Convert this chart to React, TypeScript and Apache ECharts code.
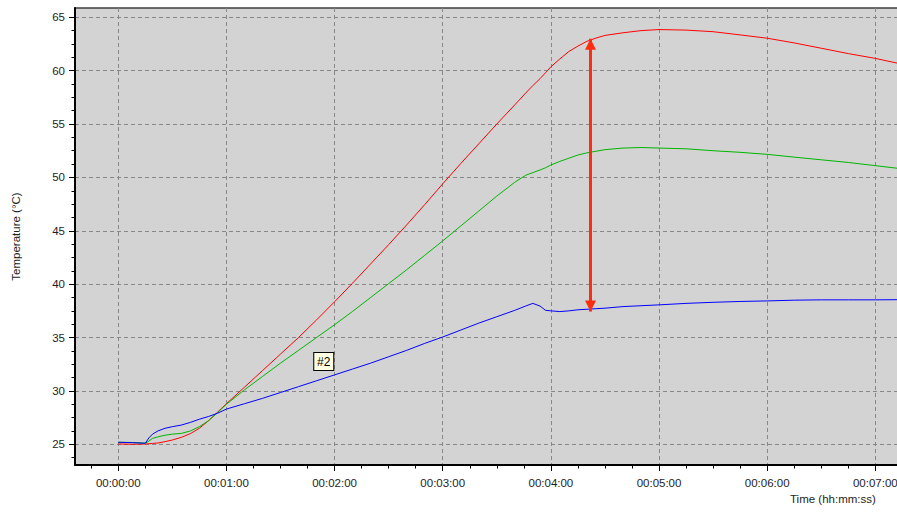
import React, { useEffect, useRef } from "react";
import * as echarts from "echarts";

// time in seconds
const times = [0, 8, 15, 17, 19, 22, 26, 30, 35, 40, 45, 50, 55, 60, 70, 80, 90, 100, 110, 120, 130, 140, 150, 160, 170, 180, 190, 200, 210, 220, 226, 230, 234, 237, 240, 245, 250, 255, 260, 265, 270, 280, 290, 300, 315, 330, 345, 360, 375, 390, 405, 420, 435, 445];

const redTemp = [25.03, 25.0, 25.03, 25.05, 25.08, 25.12, 25.25, 25.4, 25.65, 26.0, 26.5, 27.2, 28.0, 28.8, 30.35, 31.9, 33.45, 35.0, 36.65, 38.35, 40.1, 41.9, 43.7, 45.55, 47.45, 49.4, 51.3, 53.15, 55.0, 56.8, 57.9, 58.6, 59.25, 59.8, 60.36, 61.1, 61.8, 62.3, 62.75, 63.05, 63.3, 63.55, 63.75, 63.85, 63.8, 63.65, 63.35, 63.04, 62.6, 62.1, 61.6, 61.15, 60.6, 60.3];

const greenTemp = [25.19, 25.17, 25.1, 25.3, 25.55, 25.7, 25.85, 25.95, 26.02, 26.25, 26.65, 27.2, 27.95, 28.75, 30.1, 31.35, 32.6, 33.8, 35.0, 36.2, 37.45, 38.75, 40.05, 41.35, 42.7, 44.05, 45.45, 46.85, 48.25, 49.55, 50.2, 50.45, 50.7, 50.9, 51.16, 51.5, 51.8, 52.1, 52.3, 52.45, 52.6, 52.75, 52.8, 52.75, 52.68, 52.5, 52.35, 52.16, 51.9, 51.65, 51.4, 51.1, 50.8, 50.65];

const blueTemp = [25.19, 25.15, 25.1, 25.6, 25.95, 26.25, 26.5, 26.65, 26.8, 27.05, 27.35, 27.6, 27.9, 28.3, 28.8, 29.3, 29.85, 30.4, 30.95, 31.5, 32.05, 32.6, 33.2, 33.8, 34.45, 35.05, 35.7, 36.35, 36.95, 37.55, 37.95, 38.2, 37.95, 37.55, 37.5, 37.43, 37.5, 37.6, 37.65, 37.7, 37.75, 37.9, 37.98, 38.06, 38.2, 38.3, 38.38, 38.43, 38.5, 38.53, 38.53, 38.53, 38.55, 38.55];

const xMajorTicks = [0, 60, 120, 180, 240, 300, 360, 420];
const xMinorTicks = [-15, 15, 30, 45, 75, 90, 105, 135, 150, 165, 195, 210, 225, 255, 270, 285, 315, 330, 345, 375, 390, 405, 435];
const yMajorTicks = [25, 30, 35, 40, 45, 50, 55, 60, 65];
const yMinorTicks = [23.75, 26.25, 27.5, 28.75, 31.25, 32.5, 33.75, 36.25, 37.5, 38.75, 41.25, 42.5, 43.75, 46.25, 47.5, 48.75, 51.25, 52.5, 53.75, 56.25, 57.5, 58.75, 61.25, 62.5, 63.75];

// measurement arrow (time, top value, bottom value) and label marker
const arrowTime = 262;
const arrowTop = 63.0;
const arrowBottom = 37.45;
const labelMarker = { text: "#2", time: 114, value: 32.75 };

const X_MIN = -24;
const X_MAX = 450;
const Y_MIN = 23.06;
const Y_MAX = 65.87;

const FONT = "'Liberation Sans', Arial, sans-serif";
const TXT = "#1e1e1e";

function fmtTime(sec: number): string {
  const s = Math.round(sec);
  const h = Math.floor(s / 3600);
  const m = Math.floor((s % 3600) / 60);
  const ss = s % 60;
  const p = (n: number) => (n < 10 ? "0" + n : "" + n);
  return p(h) + ":" + p(m) + ":" + p(ss);
}

export default function App() {
  const ref = useRef<HTMLDivElement>(null);
  useEffect(() => {
    if (!ref.current) return;
    const chart = echarts.init(ref.current, null, { renderer: "svg" });
    const mk = (arr: number[]) => times.map((t, i) => [t, arr[i]]);
    const dashed = { show: true, lineStyle: { color: "#878787", width: 1, type: [4, 3] as any } };
    chart.setOption({
      animation: false,
      grid: {
        left: 75,
        top: 8,
        width: 854.4,
        height: 457,
        show: true,
        backgroundColor: "#d3d3d3",
        borderColor: "#404040",
        borderWidth: 1.5,
      },
      xAxis: [
        {
          type: "value",
          min: X_MIN,
          max: X_MAX,
          minInterval: 60,
          maxInterval: 60,
          position: "bottom",
          axisLine: { show: true, onZero: false, lineStyle: { color: "#000", width: 2 } },
          axisTick: { show: true, customValues: xMajorTicks, length: 6, lineStyle: { color: "#000", width: 1 } },
          axisLabel: {
            customValues: xMajorTicks,
            formatter: (v: number) => fmtTime(v),
            color: TXT,
            fontSize: 11.5,
            fontFamily: FONT,
            margin: 12,
          },
          splitLine: dashed,
        },
        {
          type: "value",
          min: X_MIN,
          max: X_MAX,
          position: "bottom",
          axisLine: { show: false, onZero: false },
          axisTick: { show: true, customValues: xMinorTicks, length: 3.5, lineStyle: { color: "#000", width: 1 } },
          axisLabel: { show: false },
          splitLine: { show: false },
        },
      ],
      yAxis: [
        {
          type: "value",
          min: Y_MIN,
          max: Y_MAX,
          minInterval: 5,
          maxInterval: 5,
          position: "left",
          name: "Temperature (°C)",
          nameLocation: "middle",
          nameGap: 53,
          nameRotate: 90,
          nameTextStyle: { color: TXT, fontSize: 11.5, fontFamily: FONT },
          axisLine: { show: true, onZero: false, lineStyle: { color: "#000", width: 2 } },
          axisTick: { show: true, customValues: yMajorTicks, length: 6, lineStyle: { color: "#000", width: 1 } },
          axisLabel: {
            customValues: yMajorTicks,
            color: TXT,
            fontSize: 11.5,
            fontFamily: FONT,
            margin: 10,
          },
          splitLine: dashed,
        },
        {
          type: "value",
          min: Y_MIN,
          max: Y_MAX,
          position: "left",
          axisLine: { show: false, onZero: false },
          axisTick: { show: true, customValues: yMinorTicks, length: 3.5, lineStyle: { color: "#000", width: 1 } },
          axisLabel: { show: false },
          splitLine: { show: false },
        },
      ],
      graphic: [
        {
          type: "text",
          left: 790,
          top: 493,
          style: { text: "Time (hh:mm:ss)", fill: TXT, fontSize: 11.5, fontFamily: FONT },
        },
      ],
      series: [
        {
          type: "line",
          name: "red",
          data: mk(redTemp),
          showSymbol: false,
          lineStyle: { color: "#ff0000", width: 1 },
          itemStyle: { color: "#ff0000" },
          silent: true,
          markLine: {
            silent: true,
            symbol: ["triangle", "triangle"],
            symbolSize: [11, 11],
            symbolOffset: [[0, 5.5], [0, 5.5]],
            label: { show: false },
            lineStyle: { color: "#ff2d0f", width: 3, type: "solid" },
            emphasis: { disabled: true },
            data: [[{ coord: [arrowTime, arrowTop] }, { coord: [arrowTime, arrowBottom] }]],
          },
        },
        {
          type: "line",
          name: "green",
          data: mk(greenTemp),
          showSymbol: false,
          lineStyle: { color: "#00b400", width: 1 },
          itemStyle: { color: "#00b400" },
          silent: true,
        },
        {
          type: "line",
          name: "blue",
          data: mk(blueTemp),
          showSymbol: false,
          lineStyle: { color: "#0000ff", width: 1 },
          itemStyle: { color: "#0000ff" },
          silent: true,
          markPoint: {
            silent: true,
            symbol: "rect",
            symbolSize: [20, 18],
            itemStyle: { color: "#ffffe1", borderColor: "#000", borderWidth: 1 },
            label: { show: true, position: "inside", formatter: labelMarker.text, color: "#000", fontSize: 12, fontFamily: FONT },
            data: [{ coord: [labelMarker.time, labelMarker.value] }],
          },
        },
      ],
    });
    return () => chart.dispose();
  }, []);
  return (
    <div style={{ position: "absolute", left: 0, top: 0, width: 897, height: 512, overflow: "hidden", background: "#fff" }}>
      <div ref={ref} style={{ width: 940, height: 512 }} />
    </div>
  );
}
